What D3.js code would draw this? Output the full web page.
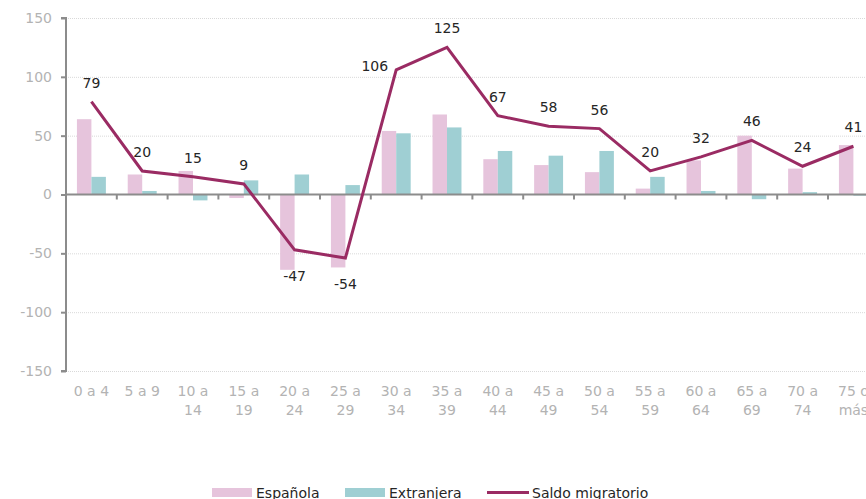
<!DOCTYPE html>
<html>
<head>
<meta charset="utf-8">
<script src="https://cdn.jsdelivr.net/npm/d3@7"></script>
<style>
  html, body { margin: 0; padding: 0; background: #fff; }
  svg { display: block; font-family: "DejaVu Sans", Verdana, sans-serif; }
</style>
</head>
<body>
<svg id="chart" width="866" height="499"></svg>
<script>
// Age groups (two-line labels)
const categories = [
  ["0 a 4"], ["5 a 9"], ["10 a", "14"], ["15 a", "19"], ["20 a", "24"],
  ["25 a", "29"], ["30 a", "34"], ["35 a", "39"], ["40 a", "44"], ["45 a", "49"],
  ["50 a", "54"], ["55 a", "59"], ["60 a", "64"], ["65 a", "69"], ["70 a", "74"],
  ["75 o", "más"]
];
// Migration balance by nationality (thousands)
const espanola   = [64, 17, 20, -3, -64, -62, 54, 68, 30, 25, 19, 5, 29, 50, 22, 42];
const extranjera = [15, 3, -5, 12, 17, 8, 52, 57, 37, 33, 37, 15, 3, -4, 2, -1];
const saldo      = [79, 20, 15, 9, -47, -54, 106, 125, 67, 58, 56, 20, 32, 46, 24, 41];
const yTicks     = [-150, -100, -50, 0, 50, 100, 150];
// Where each value label of the line sits
const labelPlace = ["above","above","above","above","below","below","left","above",
                    "above","above","above","above","above","above","above","above"];

const svg = d3.select("#chart");
const plotLeft = 66, plotTop = 18, plotBottom = 371, band = 50.8;
const ids = d3.range(categories.length);

const x = d3.scaleBand().domain(ids).range([plotLeft, plotLeft + band * ids.length]).padding(0);
const y = d3.scaleLinear().domain([-150, 150]).range([plotBottom, plotTop]);
const bw = x.bandwidth() * 0.285;
const cx = i => x(i) + x.bandwidth() / 2;

const colEsp = "#e6c4dc", colExt = "#9fcfd3", colLine = "#9a2b63";
const grey = "#8c8c8c", tickText = "#b3b3b3";

// Dotted gridlines
svg.append("g").selectAll("line")
  .data(yTicks.filter(d => d !== 0)).join("line")
  .attr("x1", plotLeft).attr("x2", 866)
  .attr("y1", d => y(d) + 0.5).attr("y2", d => y(d) + 0.5)
  .attr("stroke", "#d9d9d9").attr("stroke-width", 1)
  .attr("stroke-dasharray", "1,1");

// Bars
const bars = svg.append("g");
bars.selectAll("rect.esp").data(espanola).join("rect")
  .attr("class", "esp")
  .attr("x", (d, i) => cx(i) - bw)
  .attr("width", bw)
  .attr("y", d => y(Math.max(0, d)))
  .attr("height", d => Math.abs(y(d) - y(0)))
  .attr("fill", colEsp);
bars.selectAll("rect.ext").data(extranjera).join("rect")
  .attr("class", "ext")
  .attr("x", (d, i) => cx(i))
  .attr("width", bw)
  .attr("y", d => y(Math.max(0, d)))
  .attr("height", d => Math.abs(y(d) - y(0)))
  .attr("fill", colExt);

// Y axis (plain hyphen for negatives)
const yAxis = svg.append("g").attr("transform", `translate(${plotLeft},0)`)
  .call(d3.axisLeft(y).tickValues(yTicks).tickSize(5).tickPadding(9)
    .tickFormat(d => String(d)));
yAxis.select(".domain").attr("stroke", grey).attr("stroke-width", 2)
  .attr("d", `M-5,${y(150)}H0V${y(-150)}H-5`);
yAxis.selectAll(".tick line").attr("stroke", grey).attr("stroke-width", 2);
yAxis.selectAll(".tick text").attr("fill", tickText)
  .style("font-size", "14px").style("font-family", "DejaVu Sans, Verdana, sans-serif");

// X axis along zero
const xg = svg.append("g");
xg.append("line").attr("x1", plotLeft).attr("x2", 866)
  .attr("y1", y(0)).attr("y2", y(0))
  .attr("stroke", grey).attr("stroke-width", 2);
xg.selectAll("line.tk").data(d3.range(1, ids.length + 1)).join("line")
  .attr("class", "tk")
  .attr("x1", i => plotLeft + i * x.step()).attr("x2", i => plotLeft + i * x.step())
  .attr("y1", y(0)).attr("y2", y(0) + 5)
  .attr("stroke", grey).attr("stroke-width", 2);

// Category labels below the plot
const catLab = svg.append("g").selectAll("text").data(categories).join("text")
  .attr("text-anchor", "middle")
  .attr("fill", tickText)
  .style("font-size", "14px");
catLab.each(function(lines, i) {
  d3.select(this).selectAll("tspan").data(lines).join("tspan")
    .attr("x", cx(i))
    .attr("y", (l, k) => 396 + k * 19)
    .text(l => l);
});

// Saldo migratorio line
svg.append("path")
  .datum(saldo)
  .attr("fill", "none")
  .attr("stroke", colLine)
  .attr("stroke-width", 3)
  .attr("stroke-linejoin", "miter")
  .attr("d", d3.line().x((d, i) => cx(i)).y(d => y(d)));

// Value labels for the line
svg.append("g").selectAll("text").data(saldo).join("text")
  .attr("x", (d, i) => labelPlace[i] === "left" ? cx(i) - 8 : cx(i))
  .attr("y", (d, i) => labelPlace[i] === "below" ? y(d) + 31
                      : labelPlace[i] === "left" ? y(d) + 1 : y(d) - 14)
  .attr("text-anchor", (d, i) => labelPlace[i] === "left" ? "end" : "middle")
  .attr("fill", "#262626")
  .style("font-size", "14px")
  .text(d => d);

// Legend
const legend = svg.append("g").style("font-size", "14px").attr("fill", "#262626");
legend.append("rect").attr("x", 212).attr("y", 488).attr("width", 40).attr("height", 9).attr("fill", colEsp);
legend.append("text").attr("x", 256).attr("y", 498).text("Española");
legend.append("rect").attr("x", 345).attr("y", 488).attr("width", 40).attr("height", 9).attr("fill", colExt);
legend.append("text").attr("x", 389).attr("y", 498).text("Extranjera");
legend.append("line").attr("x1", 487).attr("x2", 529).attr("y1", 492.5).attr("y2", 492.5)
  .attr("stroke", colLine).attr("stroke-width", 3);
legend.append("text").attr("x", 532).attr("y", 498).text("Saldo migratorio");
</script>
</body>
</html>
